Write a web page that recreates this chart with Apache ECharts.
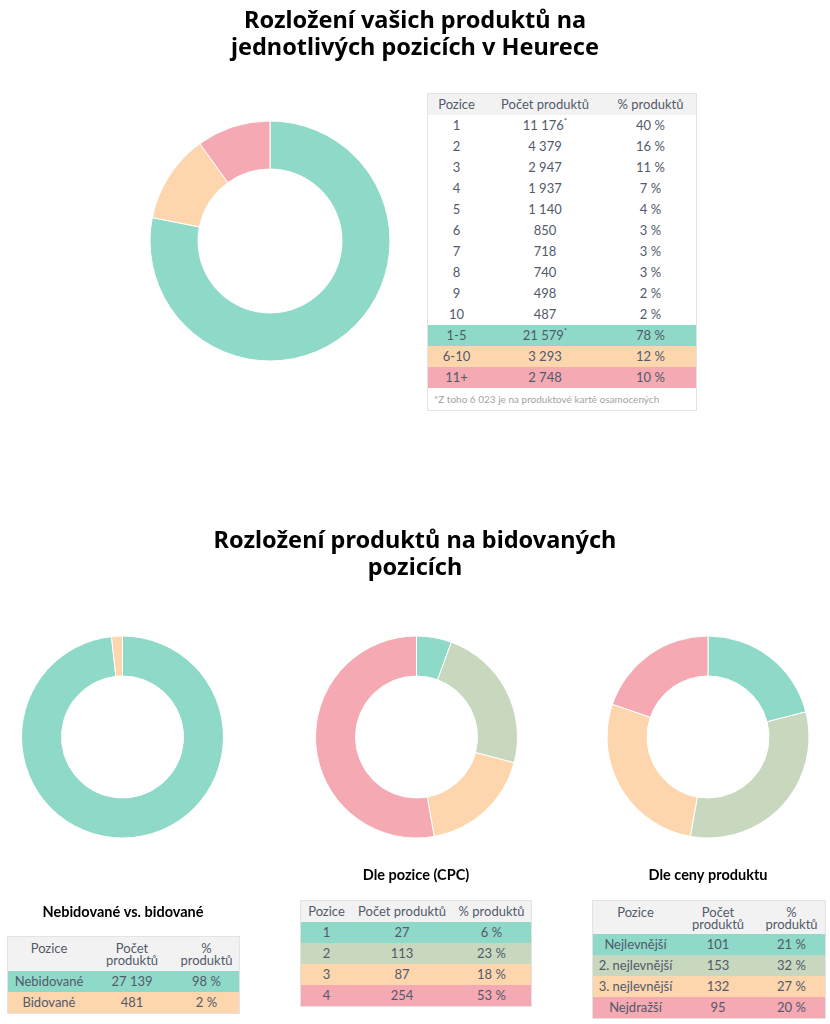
<!DOCTYPE html>
<html>
<head>
<meta charset="utf-8">
<script src="https://cdn.jsdelivr.net/npm/echarts@6/dist/echarts.min.js"></script>
<style>
  html, body { margin: 0; padding: 0; background: #fff; }
  body { width: 830px; height: 1024px; position: relative; overflow: hidden; font-family: Lato, "Noto Sans", sans-serif; }
  #chart { position: absolute; left: 0; top: 0; width: 830px; height: 1024px; }
  .tbl { position: absolute; border: 1px solid #e3e3e3; font-size: 13px; color: #525a6a; background: #fff; }
  .row { display: flex; height: 21px; }
  .cell { text-align: center; line-height: 21px; white-space: nowrap; overflow: visible; box-sizing: border-box; }
  .hdr { background: #f2f2f2; }
  .hdr2 .cell { line-height: 12px; white-space: normal; padding: 5px 3px 0 3px; }
  .note { font-size: 10px; color: #a3a3a3; line-height: 22px; height: 22px; padding-left: 6px; white-space: nowrap; }
  sup { font-size: 8px; line-height: 0; position: relative; top: -1px; }
</style>
</head>
<body>
<div id="chart"></div>
<div id="tables"></div>
<script>
// ---------- colours ----------
const cTeal = '#8fd9c9';
const cSage = '#c7d8bf';
const cOrange = '#fdd6ae';
const cPink = '#f5a9b2';

// ---------- section 1 : positions in Heureka ----------
const mainTitle = 'Rozložení vašich produktů na\njednotlivých pozicích v Heurece';
const tableHeaders = ['Pozice', 'Počet produktů', '% produktů'];
const posLabels = ['1', '2', '3', '4', '5', '6', '7', '8', '9', '10'];
const posCounts = [11176, 4379, 2947, 1937, 1140, 850, 718, 740, 498, 487];
const posPct = [40, 16, 11, 7, 4, 3, 3, 3, 2, 2];
const posStar = [true, false, false, false, false, false, false, false, false, false];
const groupLabels = ['1-5', '6-10', '11+'];
const groupCounts = [21579, 3293, 2748];
const groupPct = [78, 12, 10];
const groupStar = [true, false, false];
const groupColors = [cTeal, cOrange, cPink];
const footnote = '*Z toho 6 023 je na produktové kartě osamocených';

// ---------- section 2 : bidded positions ----------
const bidTitle = 'Rozložení produktů na bidovaných\npozicích';
const bidSub = 'Nebidované vs. bidované';
const bidLabels = ['Nebidované', 'Bidované'];
const bidCounts = [27139, 481];
const bidPct = [98, 2];
const bidColors = [cTeal, cOrange];

const cpcSub = 'Dle pozice (CPC)';
const cpcLabels = ['1', '2', '3', '4'];
const cpcCounts = [27, 113, 87, 254];
const cpcPct = [6, 23, 18, 53];
const cpcColors = [cTeal, cSage, cOrange, cPink];

const priceSub = 'Dle ceny produktu';
const priceLabels = ['Nejlevnější', '2. nejlevnější', '3. nejlevnější', 'Nejdražší'];
const priceCounts = [101, 153, 132, 95];
const pricePct = [21, 32, 27, 20];
const priceColors = [cTeal, cSage, cOrange, cPink];

// ---------- helpers ----------
function fmt(n) { return String(n).replace(/\B(?=(\d{3})+(?!\d))/g, '\u00a0'); }

function pieSeries(labels, values, colors, center, radius) {
  return {
    type: 'pie',
    center: center,
    radius: radius,
    startAngle: 90,
    clockwise: true,
    avoidLabelOverlap: false,
    label: { show: false },
    labelLine: { show: false },
    emphasis: { disabled: true },
    itemStyle: { borderColor: '#fff', borderWidth: 1 },
    data: labels.map((l, i) => ({ name: l, value: values[i], itemStyle: { color: colors[i] } }))
  };
}

const chart = echarts.init(document.getElementById('chart'), null, { renderer: 'canvas', width: 830, height: 1024 });

const titleStyle = { fontFamily: '"Noto Sans"', fontSize: 23.5, fontWeight: 'bold', lineHeight: 27, color: '#000' };
function subText(text, x, y) {
  return {
    type: 'text', x: x, y: y,
    style: { text: text, font: 'bold 14.5px Lato', fill: '#000', align: 'center', verticalAlign: 'middle', textAlign: 'center', textVerticalAlign: 'middle' }
  };
}

chart.setOption({
  animation: false,
  title: [
    { text: mainTitle, left: 'center', top: 8, padding: 0, textStyle: titleStyle },
    { text: bidTitle, left: 'center', top: 528, padding: 0, textStyle: titleStyle }
  ],
  graphic: [
    subText(bidSub, 123, 912),
    subText(cpcSub, 416, 875),
    subText(priceSub, 708, 875)
  ],
  series: [
    pieSeries(groupLabels, groupCounts, groupColors, [270, 241], [72, 120]),
    pieSeries(bidLabels, bidCounts, bidColors, [122.5, 737], [61, 101]),
    pieSeries(cpcLabels, cpcCounts, cpcColors, [416.5, 737], [61, 101]),
    pieSeries(priceLabels, priceCounts, priceColors, [708, 737], [61, 101])
  ]
});

// ---------- tables (built from the arrays) ----------
function buildTable(cfg) {
  const t = document.createElement('div');
  t.className = 'tbl';
  t.style.left = cfg.left + 'px';
  t.style.top = cfg.top + 'px';
  t.style.width = (cfg.widths.reduce((a, b) => a + b, 0)) + 'px';
  const h = document.createElement('div');
  h.className = 'row hdr' + (cfg.headerHeight > 21 ? ' hdr2' : '');
  h.style.height = cfg.headerHeight + 'px';
  tableHeaders.forEach((txt, i) => {
    const c = document.createElement('div');
    c.className = 'cell';
    c.style.width = cfg.widths[i] + 'px';
    c.textContent = txt;
    h.appendChild(c);
  });
  t.appendChild(h);
  cfg.rows.forEach(r => {
    const row = document.createElement('div');
    row.className = 'row';
    if (r.color) row.style.background = r.color;
    r.cells.forEach((txt, i) => {
      const c = document.createElement('div');
      c.className = 'cell';
      c.style.width = cfg.widths[i] + 'px';
      c.textContent = txt;
      if (i === 1 && r.star) {
        const s = document.createElement('sup');
        s.textContent = '*';
        c.appendChild(s);
      }
      row.appendChild(c);
    });
    t.appendChild(row);
  });
  if (cfg.note) {
    const n = document.createElement('div');
    n.className = 'note';
    n.textContent = cfg.note;
    t.appendChild(n);
  }
  document.getElementById('tables').appendChild(t);
}

const mainRows = posLabels.map((l, i) => ({ cells: [l, fmt(posCounts[i]), posPct[i] + '\u00a0%'], star: posStar[i] }))
  .concat(groupLabels.map((l, i) => ({ cells: [l, fmt(groupCounts[i]), groupPct[i] + '\u00a0%'], star: groupStar[i], color: groupColors[i] })));
buildTable({ left: 427, top: 93, widths: [57, 120, 91], headerHeight: 21, rows: mainRows, note: footnote });

buildTable({ left: 7, top: 936, widths: [82, 84, 65], headerHeight: 34,
  rows: bidLabels.map((l, i) => ({ cells: [l, fmt(bidCounts[i]), bidPct[i] + '\u00a0%'], color: bidColors[i] })) });

buildTable({ left: 300, top: 900, widths: [51, 100, 79], headerHeight: 21,
  rows: cpcLabels.map((l, i) => ({ cells: [l, fmt(cpcCounts[i]), cpcPct[i] + '\u00a0%'], color: cpcColors[i] })) });

buildTable({ left: 592, top: 900, widths: [85, 80, 67], headerHeight: 33,
  rows: priceLabels.map((l, i) => ({ cells: [l, fmt(priceCounts[i]), pricePct[i] + '\u00a0%'], color: priceColors[i] })) });
</script>
</body>
</html>
